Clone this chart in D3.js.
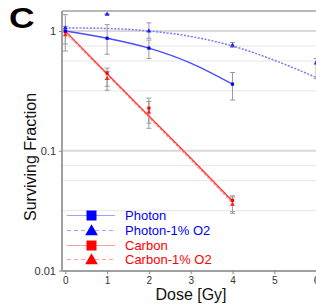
<!DOCTYPE html>
<html><head><meta charset="utf-8">
<script src="https://cdn.jsdelivr.net/npm/d3@7"></script>
<style>body{margin:0;background:#fff}svg{display:block}text{font-family:"Liberation Sans",Arial,sans-serif}</style>
</head><body><svg id="c" width="316" height="308"></svg>
<script>
// ---- data ----
const seriesNames = ["Photon", "Photon-1% O2", "Carbon", "Carbon-1% O2"];
const photonDose = [0, 1, 2, 4];
const photonVal = [1.0, 0.87, 0.72, 0.36];
const photonLo = [0.78, 0.64, 0.59, 0.265];
const photonHi = [1.09, 1.13, 0.84, 0.45];
const photonO2Dose = [0, 1, 2, 4, 6];
const photonO2Val = [1.06, 1.38, 1.0, 0.76, 0.54];
const photonO2Lo = [0.68, 1.37, 0.87, 0.73, 0.40];
const photonO2Hi = [1.37, 1.39, 1.17, 0.80, 0.59];
const carbonDose = [0, 1, 2, 4];
const carbonVal = [0.99, 0.445, 0.227, 0.0385];
const carbonLo = [0.99, 0.345, 0.17, 0.031];
const carbonHi = [0.99, 0.46, 0.258, 0.042];
const carbonO2Dose = [0, 1, 2, 4];
const carbonO2Val = [0.93, 0.40, 0.21, 0.0357];
const carbonO2Lo = [0.93, 0.32, 0.154, 0.030];
const carbonO2Hi = [0.93, 0.49, 0.275, 0.041];
// fitted curves
const photonFitDose = [0, 1, 2, 3, 4];
const photonFit = [1.0, 0.87, 0.72, 0.54, 0.36];
const photonO2FitDose = [0, 1, 2, 3, 4, 5, 6];
const photonO2Fit = [1.06, 1.05, 1.0, 0.9, 0.75, 0.57, 0.41];
const carbonFitDose = [0, 1, 2, 3, 4];
const carbonFit = [1.0, 0.44, 0.195, 0.087, 0.038];
const carbonO2Fit = [0.98, 0.435, 0.192, 0.085, 0.037];
const xTicks = [0, 1, 2, 3, 4, 5, 6];
const yTicks = [1, 0.1, 0.01];
const yTickLabels = ["1", "0.1", "0.01"];

// ---- layout ----
const svg = d3.select("#c");
const x = d3.scaleLinear().domain([0, 6]).range([65.3, 316.1]);
const y = d3.scaleLog().domain([0.01, 1]).range([270.5, 31]);
const pL = 62, pT = 11, pB = 271, pR = 316;

// gridlines
const grid = svg.append("g");
[-2, -1].forEach(k => {
  [1/8, 1/4, 1/2].forEach(f => {
    const v = Math.pow(10, k + 1 - f);
    grid.append("line").attr("x1", pL).attr("x2", pR)
      .attr("y1", y(v)).attr("y2", y(v)).attr("stroke", "#e6e6e6").attr("stroke-width", 1);
  });
});
[1, 0.1].forEach(v => grid.append("line").attr("x1", pL).attr("x2", pR)
  .attr("y1", y(v)).attr("y2", y(v)).attr("stroke", "#d9d9d9").attr("stroke-width", 2));

// frame
svg.append("line").attr("x1", pL).attr("x2", pR).attr("y1", pT).attr("y2", pT)
  .attr("stroke", "#a0a0a0").attr("stroke-width", 1.5);
svg.append("line").attr("x1", pL).attr("x2", pL).attr("y1", pT).attr("y2", pB)
  .attr("stroke", "#a0a0a0").attr("stroke-width", 2);
svg.append("line").attr("x1", pL).attr("x2", pR).attr("y1", pB).attr("y2", pB)
  .attr("stroke", "#a0a0a0").attr("stroke-width", 2);

// axes
const xa = svg.append("g").attr("transform", `translate(0,${pB})`)
  .call(d3.axisBottom(x).tickValues(xTicks).tickSize(3).tickPadding(3).tickFormat(d3.format("d")));
xa.select(".domain").remove();
xa.selectAll("line").attr("stroke", "#888");
xa.selectAll("text").attr("fill", "#333").attr("font-size", 10).attr("font-family", "Liberation Sans, Arial");
const ya = svg.append("g").attr("transform", `translate(${pL},0)`)
  .call(d3.axisLeft(y).tickValues(yTicks).tickSize(3).tickPadding(3).tickFormat((d, i) => yTickLabels[i]));
ya.select(".domain").remove();
ya.selectAll("line").attr("stroke", "#888");
ya.selectAll("text").attr("fill", "#333").attr("font-size", 11).attr("font-family", "Liberation Sans, Arial");

// axis titles
svg.append("text").attr("x", 191).attr("y", 300).attr("text-anchor", "middle")
  .attr("font-size", 16).attr("fill", "#111").text("Dose [Gy]");
svg.append("text").attr("transform", "translate(36,157) rotate(-90)").attr("text-anchor", "middle")
  .attr("font-size", 16).attr("fill", "#111").text("Surviving Fraction");
svg.append("text").attr("transform", "translate(9,28) scale(1.18,1)")
  .attr("font-size", 30).attr("font-weight", "bold").attr("fill", "#000").text("C");

// plot clip
svg.append("clipPath").attr("id", "pc").append("rect")
  .attr("x", pL).attr("y", pT).attr("width", pR - pL).attr("height", pB - pT);
const plot = svg.append("g").attr("clip-path", "url(#pc)");

const line = d3.line().x(d => x(d[0])).y(d => y(d[1])).curve(d3.curveMonotoneX);

// error bars
function errBars(doses, lo, hi) {
  doses.forEach((d, i) => {
    if (lo[i] === hi[i]) return;
    const g = plot.append("g").attr("stroke", "#9a9a9a").attr("stroke-width", 1);
    g.append("line").attr("x1", x(d)).attr("x2", x(d)).attr("y1", y(lo[i])).attr("y2", y(hi[i]));
    [lo[i], hi[i]].forEach(v => g.append("line").attr("x1", x(d) - 2.5).attr("x2", x(d) + 2.5)
      .attr("y1", y(v)).attr("y2", y(v)));
  });
}
errBars(photonDose, photonLo, photonHi);
errBars(photonO2Dose, photonO2Lo, photonO2Hi);
errBars(carbonDose, carbonLo, carbonHi);
errBars(carbonO2Dose, carbonO2Lo, carbonO2Hi);

// fit lines
plot.append("path").datum(carbonFitDose.map((d, i) => [d, carbonO2Fit[i]]))
  .attr("d", line).attr("fill", "none").attr("stroke", "#ff9a9a").attr("stroke-width", 2).attr("stroke-dasharray", "3,1.5");
plot.append("path").datum(carbonFitDose.map((d, i) => [d, carbonFit[i]]))
  .attr("d", line).attr("fill", "none").attr("stroke", "#ff4040").attr("stroke-width", 1.3);
plot.append("path").datum(photonO2FitDose.map((d, i) => [d, photonO2Fit[i]]))
  .attr("d", line).attr("fill", "none").attr("stroke", "#7a7aff").attr("stroke-width", 1.5).attr("stroke-dasharray", "2,1.5");
plot.append("path").datum(photonFitDose.map((d, i) => [d, photonFit[i]]))
  .attr("d", line).attr("fill", "none").attr("stroke", "#4a4aff").attr("stroke-width", 1.3);

// markers
const sq = d3.symbol().type(d3.symbolSquare);
const tri = d3.symbol().type(d3.symbolTriangle);
function marks(doses, vals, sym, size, color) {
  doses.forEach((d, i) => plot.append("path").attr("d", sym.size(size)())
    .attr("transform", `translate(${x(d)},${y(vals[i])})`).attr("fill", color));
}
marks(carbonO2Dose, carbonO2Val, tri, 10, "#ff2020");
marks(carbonDose, carbonVal, sq, 10, "#ff0000");
marks(photonO2Dose, photonO2Val, tri, 10, "#2020ff");
marks(photonDose, photonVal, sq, 10, "#0000ff");

// legend
const legY = [215.5, 230.5, 245.5, 259.5];
const legColors = ["#0000ff", "#0000ff", "#ff0000", "#ff0000"];
const legLine = ["#a0a0ff", "#a0a0ff", "#ffa0a0", "#ffa0a0"];
const legDash = [null, "4,3", null, "4,3"];
const legSym = [sq, tri, sq, tri];
seriesNames.forEach((n, i) => {
  const g = svg.append("g");
  g.append("line").attr("x1", 67).attr("x2", 115).attr("y1", legY[i]).attr("y2", legY[i])
    .attr("stroke", legLine[i]).attr("stroke-width", 1).attr("stroke-dasharray", legDash[i]);
  g.append("path").attr("d", legSym[i].size(i % 2 ? 70 : 100)())
    .attr("transform", `translate(91.5,${legY[i] + (i % 2 ? 1 : 0)})`).attr("fill", legColors[i]);
  g.append("text").attr("x", 125).attr("y", legY[i] + 4.5).attr("font-size", 13)
    .attr("fill", legColors[i]).text(n);
});
</script></body></html>
